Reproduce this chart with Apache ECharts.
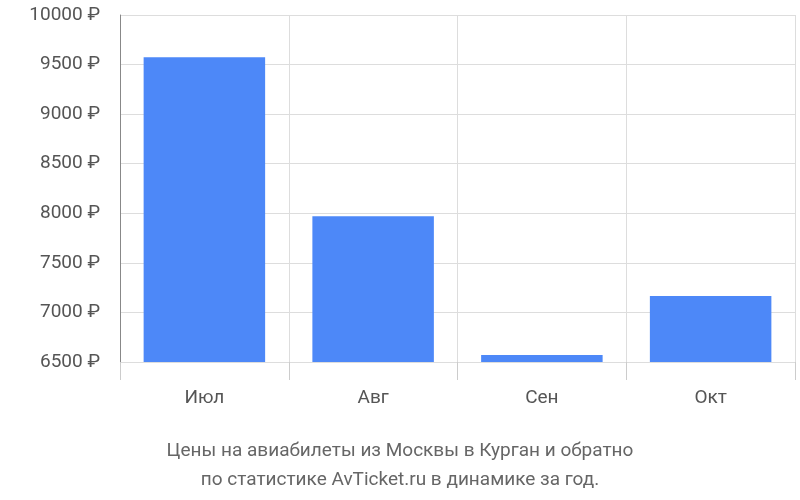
<!DOCTYPE html>
<html><head><meta charset="utf-8">
<script src="https://cdn.jsdelivr.net/npm/echarts@6/dist/echarts.min.js"></script>
<style>html,body{margin:0;padding:0}#c{width:800px;height:500px}</style>
</head><body><div id="c"></div>
<script>
const categories = ['Июл','Авг','Сен','Окт'];
const prices = [9575, 7970, 6570, 7165];
const titleLines = ['Цены на авиабилеты из Москвы в Курган и обратно','по статистике AvTicket.ru в динамике за год.'];
const chart = echarts.init(document.getElementById('c'));
chart.setOption({
  animation:false,
  title:{text:titleLines.join('\n'),left:'center',top:432,textStyle:{fontFamily:'Roboto',fontSize:19,fontWeight:'normal',color:'#666',lineHeight:29}},
  grid:{left:120,right:5,top:15,bottom:138},
  xAxis:{type:'category',data:categories,
    axisLine:{show:false},
    axisTick:{show:true,length:18,lineStyle:{color:'#ccc'}},
    splitLine:{show:true,lineStyle:{color:'#ddd'}},
    axisLabel:{margin:27,fontFamily:'Roboto',fontSize:19,color:'#555'}},
  yAxis:{type:'value',min:6500,max:10000,interval:500,
    axisLine:{show:true,lineStyle:{color:'#888'}},
    splitLine:{lineStyle:{color:'#ddd'}},
    axisLabel:{formatter:v=>v+' ₽',margin:20,fontFamily:'Roboto',fontSize:19,color:'#555'}},
  series:[{type:'bar',data:prices,barWidth:'72%',itemStyle:{color:'#4d88f8'}}]
});
</script></body></html>
